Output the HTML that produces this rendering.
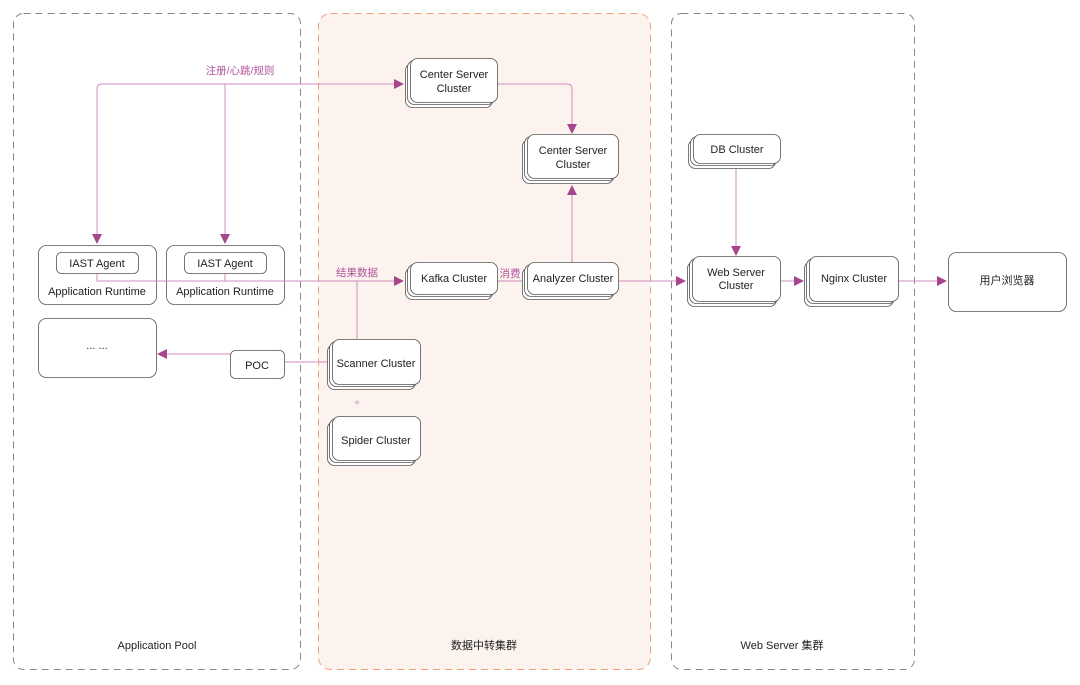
<!DOCTYPE html>
<html><head><meta charset="utf-8"><style>
html,body{margin:0;padding:0;background:#fff;}
svg{display:block;font-family:"Liberation Sans","Noto Sans CJK SC",sans-serif;}
</style></head><body>
<svg width="1080" height="685" viewBox="0 0 1080 685" xmlns="http://www.w3.org/2000/svg">
<defs>
<marker id="a" viewBox="0 0 10 10" refX="9" refY="5" markerWidth="10" markerHeight="10" markerUnits="userSpaceOnUse" orient="auto">
<path d="M0,0 L10,5 L0,10 Z" fill="#a8458f"/></marker>
</defs>
<rect x="13.5" y="13.5" width="287" height="656" rx="10" fill="none" stroke="#888" stroke-dasharray="7,5"/>
<rect x="318.5" y="13.5" width="332" height="656" rx="12" fill="#fcf2ee" stroke="#f3a07a" stroke-dasharray="7,5"/>
<rect x="671.5" y="13.5" width="243" height="656" rx="10" fill="none" stroke="#888" stroke-dasharray="7,5"/>
<g font-size="11" fill="#222" text-anchor="middle">
<text x="157" y="649">Application Pool</text>
<text x="484" y="649">数据中转集群</text>
<text x="782" y="649">Web Server 集群</text>
</g>

<g fill="none" stroke="#d08cc0" stroke-width="1">
<path d="M97,243 V89 Q97,84 102,84 H403" marker-end="url(#a)"/>
<path d="M97,89 V243" marker-end="url(#a)"/>
<path d="M225,84 V243" marker-end="url(#a)"/>
<path d="M497,84 H567 Q572,84 572,89 V133" marker-end="url(#a)"/>
<path d="M572,262 V186" marker-end="url(#a)"/>
<path d="M357,281 V339"/>
<path d="M497,281 H522"/>
<path d="M618,281 H685" marker-end="url(#a)"/>
<path d="M736,168 V255" marker-end="url(#a)"/>
<path d="M780,281 H803" marker-end="url(#a)"/>
<path d="M898,281 H946" marker-end="url(#a)"/>
<path d="M285,362 H327"/>
<path d="M230,354 H158" marker-end="url(#a)"/>
</g>
<g font-size="10.5" fill="#b0549a" text-anchor="middle">
<text x="240" y="74">注册/心跳/规则</text>
<text x="357" y="276">结果数据</text>
<text x="510" y="277">消费</text>
<text x="357" y="406" font-size="10" fill="#d08cc0">+</text>
</g>

<g fill="#fff" stroke="#555" stroke-width="0.8">
<rect x="405.5" y="63.5" width="87" height="44" rx="7"/><rect x="407.5" y="60.5" width="87" height="44" rx="7"/><rect x="410.5" y="58.5" width="87" height="44" rx="7"/>
<rect x="522.5" y="139.5" width="91" height="44" rx="7"/><rect x="524.5" y="136.5" width="91" height="44" rx="7"/><rect x="527.5" y="134.5" width="91" height="44" rx="7"/>
<rect x="405.5" y="267.5" width="87" height="32" rx="7"/><rect x="407.5" y="264.5" width="87" height="32" rx="7"/><rect x="410.5" y="262.5" width="87" height="32" rx="7"/>
<rect x="522.5" y="267.5" width="91" height="32" rx="7"/><rect x="524.5" y="264.5" width="91" height="32" rx="7"/><rect x="527.5" y="262.5" width="91" height="32" rx="7"/>
<rect x="327.5" y="344.5" width="88" height="45" rx="7"/><rect x="329.5" y="341.5" width="88" height="45" rx="7"/><rect x="332.5" y="339.5" width="88" height="45" rx="7"/>
<rect x="327.5" y="421.5" width="88" height="44" rx="7"/><rect x="329.5" y="418.5" width="88" height="44" rx="7"/><rect x="332.5" y="416.5" width="88" height="44" rx="7"/>
<rect x="688.5" y="139.5" width="87" height="29" rx="7"/><rect x="690.5" y="136.5" width="87" height="29" rx="7"/><rect x="693.5" y="134.5" width="87" height="29" rx="7"/>
<rect x="687.5" y="261.5" width="89" height="45" rx="7"/><rect x="689.5" y="258.5" width="89" height="45" rx="7"/><rect x="692.5" y="256.5" width="88" height="45" rx="7"/>
<rect x="804.5" y="261.5" width="89" height="45" rx="7"/><rect x="806.5" y="258.5" width="89" height="45" rx="7"/><rect x="809.5" y="256.5" width="89" height="45" rx="7"/>
</g>
<g fill="#fff" stroke="#555" stroke-width="0.8">
<rect x="38.5" y="245.5" width="118" height="59" rx="8"/>
<rect x="166.5" y="245.5" width="118" height="59" rx="8"/>
<rect x="56.5" y="252.5" width="82" height="21" rx="5"/>
<rect x="184.5" y="252.5" width="82" height="21" rx="5"/>
<rect x="38.5" y="318.5" width="118" height="59" rx="8"/>
<rect x="230.5" y="350.5" width="54" height="28" rx="5"/>
<rect x="948.5" y="252.5" width="118" height="59" rx="8"/>
</g>
<g fill="none" stroke="#d08cc0" stroke-width="1">
<path d="M97,274 V281 H403" marker-end="url(#a)"/>
<path d="M225,274 V281"/>
</g>

<g font-size="11" fill="#222" text-anchor="middle">
<text x="454" y="78">Center Server</text><text x="454" y="92">Cluster</text>
<text x="573" y="154">Center Server</text><text x="573" y="168">Cluster</text>
<text x="454" y="282">Kafka Cluster</text>
<text x="573" y="282">Analyzer Cluster</text>
<text x="376" y="367">Scanner Cluster</text>
<text x="376" y="444">Spider Cluster</text>
<text x="737" y="153">DB Cluster</text>
<text x="736" y="276">Web Server</text><text x="736" y="289">Cluster</text>
<text x="854" y="282">Nginx Cluster</text>
<text x="1007" y="284">用户浏览器</text>
<text x="97" y="267">IAST Agent</text>
<text x="225" y="267">IAST Agent</text>
<text x="97" y="295">Application Runtime</text>
<text x="225" y="295">Application Runtime</text>
<text x="97" y="349">... ...</text>
<text x="257" y="369">POC</text>
</g>
</svg>
</body></html>
